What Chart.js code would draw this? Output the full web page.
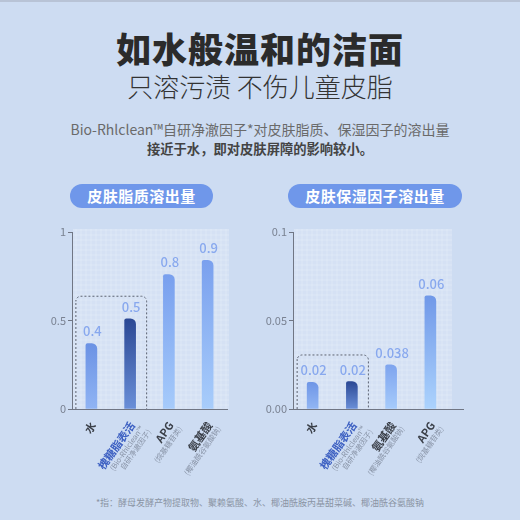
<!DOCTYPE html>
<html>
<head>
<meta charset="utf-8">
<script src="https://cdn.jsdelivr.net/npm/chart.js@4.4.1/dist/chart.umd.min.js"></script>
<style>
  html, body { margin: 0; padding: 0; }
  body {
    width: 520px; height: 520px; position: relative; overflow: hidden;
    background: #cddcf2;
    font-family: "Noto Sans CJK SC", "Noto Sans", sans-serif;
    border-top: 2px solid #b8c3d6; box-sizing: border-box;
  }
  .txt { position: absolute; left: 0; width: 520px; text-align: center; white-space: nowrap; }
  #title { top: 22px; font-size: 35px; font-weight: 900; color: #2b2b2b; line-height: 48px; letter-spacing: 1px; }
  #subtitle { top: 66px; font-size: 26px; font-weight: 300; color: #333; line-height: 36px; }
  #line1 { top: 118px; font-size: 14px; color: #6a6a6a; line-height: 18px; }
  #line2 { top: 138px; font-size: 13.3px; font-weight: 700; color: #444; line-height: 18px; }
  #footer { top: 494px; font-size: 9px; color: #8a94a4; line-height: 14px; }
  .pill {
    position: absolute; top: 182px; height: 24px; border-radius: 12px;
    background: #6f97ea; color: #fff; font-size: 15px; font-weight: 700;
    text-align: center; line-height: 24px; letter-spacing: 0.5px;
  }
  canvas { position: absolute; top: 220px; }
</style>
</head>
<body>
<div class="txt" id="title">如水般温和的洁面</div>
<div class="txt" id="subtitle">只溶污渍 不伤儿童皮脂</div>
<div class="txt" id="line1">Bio-Rhlclean™自研净澈因子*对皮肤脂质、保湿因子的溶出量</div>
<div class="txt" id="line2">接近于水，即对皮肤屏障的影响较小。</div>
<div class="pill" style="left:70px;width:143px;">皮肤脂质溶出量</div>
<div class="pill" style="left:288px;width:174px;">皮肤保湿因子溶出量</div>
<canvas id="lipidChart" width="215" height="260" style="left:30px;"></canvas>
<canvas id="moistChart" width="215" height="260" style="left:255px;"></canvas>
<div class="txt" id="footer">*指：酵母发酵产物提取物、聚赖氨酸、水、椰油酰胺丙基甜菜碱、椰油酰谷氨酸钠</div>

<script>
// left chart: skin lipid
const lipidCategories = ["水", "槐糖脂表活", "APG", "氨基酸"];
const lipidSubLabels = [[], ["(Bio-Rhlclean™", "自研净澈因子)"], ["(烷基糖苷类)"], ["(椰油酰谷氨酸钠)"]];
const lipidValues = [0.37, 0.51, 0.76, 0.84];
const lipidValueLabels = ["0.4", "0.5", "0.8", "0.9"];
const lipidTicks = [0, 0.5, 1];
const lipidTickLabels = ["0", "0.5", "1"];
const lipidBoxTop = 0.64;

// right chart: moisturizing factor
const moistCategories = ["水", "槐糖脂表活", "氨基酸", "APG"];
const moistSubLabels = [[], ["(Bio-Rhlclean™", "自研净澈因子)"], ["(椰油酰谷氨酸钠)"], ["(烷基糖苷类)"]];
const moistValues = [0.015, 0.0155, 0.025, 0.064];
const moistValueLabels = ["0.02", "0.02", "0.038", "0.06"];
const moistTicks = [0, 0.05, 0.1];
const moistTickLabels = ["0.00", "0.05", "0.1"];
const moistBoxTop = 0.0308;

const FONT = '"Noto Sans CJK SC", "Noto Sans", sans-serif';

function barGradient(ctx, tops, bottoms) {
  const chart = ctx.chart;
  const area = chart.chartArea;
  const i = ctx.dataIndex;
  if (!area || ctx.parsed === undefined) return bottoms[i];
  const yScale = chart.scales.y;
  const yTop = yScale.getPixelForValue(ctx.parsed.y);
  const g = chart.ctx.createLinearGradient(0, yTop, 0, area.bottom);
  g.addColorStop(0, tops[i]);
  g.addColorStop(1, bottoms[i]);
  return g;
}

const decorPlugin = {
  id: "decor",
  beforeDatasetsDraw(chart) {
    const { ctx, chartArea: a } = chart;
    ctx.save();
    ctx.fillStyle = "rgba(255,255,255,0.16)";
    ctx.fillRect(a.left + 1, a.top - 3, a.width + 1, a.height + 3);
    ctx.strokeStyle = "rgba(255,255,255,0.32)";
    ctx.lineWidth = 0.6;
    ctx.beginPath();
    for (let x = a.left + 4; x <= a.right + 1; x += 5) {
      ctx.moveTo(x, a.top - 3); ctx.lineTo(x, a.bottom);
    }
    for (let y = a.bottom - 4; y >= a.top - 3; y -= 5) {
      ctx.moveTo(a.left + 1, y); ctx.lineTo(a.right + 2, y);
    }
    ctx.stroke();
    ctx.restore();
  },
  afterDatasetsDraw(chart, args, opts) {
    const { ctx, chartArea: a } = chart;
    const xs = chart.scales.x, ys = chart.scales.y;
    const meta = chart.getDatasetMeta(0);
    ctx.save();

    // dashed box around first two bars
    const bx0 = xs.getPixelForValue(0) - 16;
    const bx1 = xs.getPixelForValue(1) + 16;
    const by0 = ys.getPixelForValue(opts.boxTop);
    const by1 = a.bottom;
    const r = 5;
    ctx.setLineDash([2, 2]);
    ctx.strokeStyle = "#5a6070";
    ctx.lineWidth = 1;
    ctx.beginPath();
    ctx.moveTo(bx0 + 0.5, by1);
    ctx.lineTo(bx0 + 0.5, by0 + r);
    ctx.arcTo(bx0 + 0.5, by0 + 0.5, bx0 + r, by0 + 0.5, r);
    ctx.lineTo(bx1 - r, by0 + 0.5);
    ctx.arcTo(bx1 + 0.5, by0 + 0.5, bx1 + 0.5, by0 + r, r);
    ctx.lineTo(bx1 + 0.5, by1);
    ctx.stroke();
    ctx.setLineDash([]);

    // axis line extension
    if (opts.axisExtend) {
      ctx.strokeStyle = "#707684";
      ctx.beginPath();
      ctx.moveTo(a.right, a.bottom + 0.5);
      ctx.lineTo(a.right + opts.axisExtend, a.bottom + 0.5);
      ctx.stroke();
    }

    // value labels
    ctx.fillStyle = "#88a8ee";
    ctx.font = "500 13px " + FONT;
    ctx.textAlign = "center";
    ctx.textBaseline = "middle";
    meta.data.forEach((bar, i) => {
      ctx.fillText(opts.valueLabels[i], bar.x + 1, bar.y - 12);
    });

    // rotated category labels
    const ang = -55 * Math.PI / 180;
    opts.categories.forEach((name, i) => {
      const cx = xs.getPixelForValue(i);
      ctx.save();
      ctx.translate(cx + 2, a.bottom + 14);
      ctx.rotate(ang);
      ctx.textAlign = "right";
      ctx.textBaseline = "middle";
      ctx.font = "700 11px " + FONT;
      ctx.fillStyle = i === 1 ? "#3d60c2" : "#3a3f48";
      ctx.fillText(name, 0, 0);
      ctx.font = "7.5px " + FONT;
      ctx.fillStyle = "#8893a6";
      opts.subLabels[i].forEach((s, k) => {
        ctx.fillText(s, 2 + k * 2, 10 + k * 8);
      });
      ctx.restore();
    });
    ctx.restore();
  }
};

function makeChart(id, cats, values, valueLabels, subLabels, ticks, tickLabels, maxY, boxTop, tops, bottoms, yWidth, padRight, axisExtend) {
  return new Chart(document.getElementById(id), {
    type: "bar",
    data: {
      labels: cats,
      datasets: [{
        data: values,
        barThickness: 11,
        borderRadius: { topLeft: 2, topRight: 6, bottomLeft: 0, bottomRight: 0 },
        borderSkipped: "bottom",
        backgroundColor: (ctx) => barGradient(ctx, tops, bottoms)
      }]
    },
    options: {
      responsive: false,
      animation: false,
      layout: { padding: { top: 10, right: padRight, left: 0, bottom: 0 } },
      plugins: {
        legend: { display: false },
        tooltip: { enabled: false },
        decor: { boxTop, valueLabels, categories: cats, subLabels, axisExtend }
      },
      scales: {
        x: {
          grid: { display: false },
          border: { color: "#707684", width: 1 },
          ticks: { display: false },
          afterFit: (s) => { s.height = 73; }
        },
        y: {
          min: 0, max: maxY,
          afterBuildTicks: (s) => { s.ticks = ticks.map(v => ({ value: v })); },
          afterFit: (s) => { s.width = yWidth; },
          grid: { drawOnChartArea: false, drawTicks: true, tickLength: 4, color: "#707684" },
          border: { color: "#707684", width: 1 },
          ticks: {
            padding: 2,
            color: "#7a8292",
            font: { size: 11, family: FONT },
            callback: (v, i) => tickLabels[i]
          }
        }
      }
    },
    plugins: [decorPlugin]
  });
}

makeChart("lipidChart", lipidCategories, lipidValues, lipidValueLabels, lipidSubLabels,
  lipidTicks, lipidTickLabels, 1, lipidBoxTop,
  ["#6b92e4", "#2b4894", "#789fee", "#7aa0ee"],
  ["#90b4f4", "#6a8fd8", "#a6cbfb", "#a8cdfb"],
  42, 18, 0);

makeChart("moistChart", moistCategories, moistValues, moistValueLabels, moistSubLabels,
  moistTicks, moistTickLabels, 0.1, moistBoxTop,
  ["#6f96e6", "#2b4894", "#7ea4ee", "#7098e8"],
  ["#92b6f4", "#6a8fd8", "#a6cbfb", "#acd3fd"],
  38, 20, 14);
</script>
</body>
</html>
